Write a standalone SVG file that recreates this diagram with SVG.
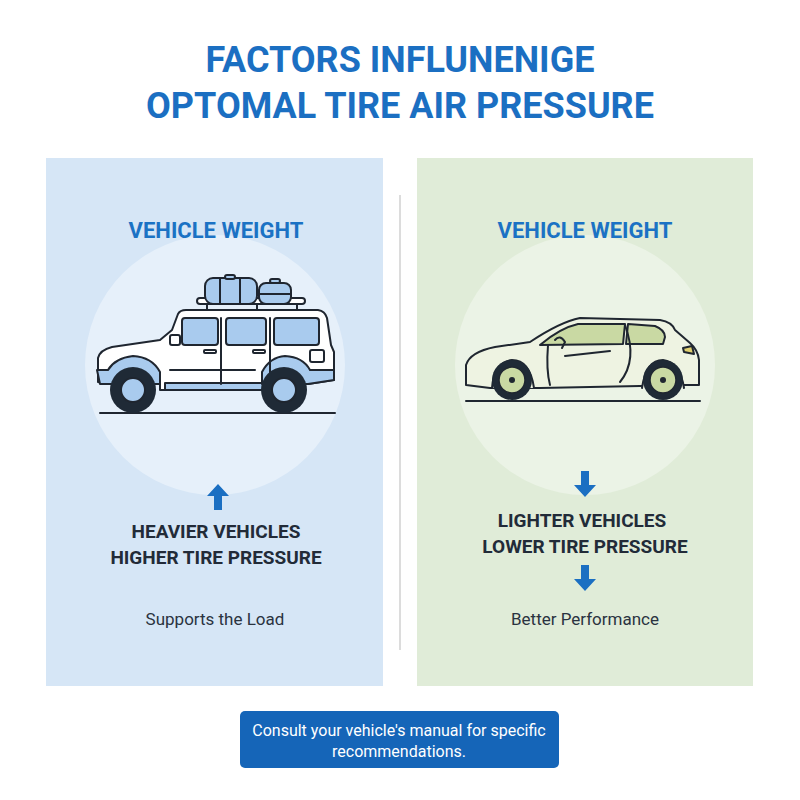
<svg xmlns="http://www.w3.org/2000/svg" width="800" height="800" viewBox="0 0 800 800">
<style>
.t{font-family:Roboto,"Liberation Sans",sans-serif;font-weight:bold;text-anchor:middle}
.title{fill:#1b6fc2;font-size:36px}
.h{fill:#1b72c4;font-size:22px}
.b{fill:#222b38;font-size:19px}
.s{font-family:Roboto,"Liberation Sans",sans-serif;fill:#2a3340;font-size:17px;text-anchor:middle}
.ln{stroke:#1f2630;stroke-width:2;stroke-linejoin:round;stroke-linecap:round}
.tire{fill:#1f2a36}
</style>
<rect width="800" height="800" fill="#fff"/>
<text class="t title" x="400" y="72">FACTORS INFLUNENIGE</text>
<text class="t title" x="400" y="118">OPTOMAL TIRE AIR PRESSURE</text>
<g id="left-panel">
<rect x="46" y="158" width="337" height="528" fill="#d6e6f6"/>
<circle cx="215" cy="365" r="130" fill="#e6f0fa"/>
<text class="t h" x="216" y="238">VEHICLE WEIGHT</text>
</g>
<g id="suv">
<line class="ln" x1="100" y1="413" x2="335" y2="413"/>
<path class="ln" fill="#fff" d="M98,382 L98,358 Q100,350 112,347 L160,340 L172,330 L178,314 Q180,310 186,310 L318,310 Q325,311 327,318 L331,345 L334,352 L334,380 L308,384 L262,384 L262,390 L160,390 L160,384 L110,384 Z"/>
<rect x="165" y="383" width="100" height="7" fill="#a9cbee" class="ln"/>
<path class="ln" fill="#a9cbee" d="M97,370 L108,370 Q115,358 133,356 Q152,357 160,372 L160,384 L100,384 Z"/>
<path class="ln" fill="#a9cbee" d="M262,384 L262,372 Q270,357 285,356 Q303,357 310,370 L334,370 L334,380 L308,384 Z"/>
<rect class="ln" x="197" y="298" width="108" height="6" rx="3" fill="#fff"/>
<line class="ln" x1="207" y1="304" x2="207" y2="310"/><line class="ln" x1="257" y1="304" x2="257" y2="310"/><line class="ln" x1="297" y1="304" x2="297" y2="310"/>
<rect class="ln" x="205" y="278" width="52" height="26" rx="8" fill="#a9cbee"/>
<rect class="ln" x="225" y="275" width="10" height="4" rx="2" fill="#a9cbee"/>
<line class="ln" x1="220" y1="279" x2="220" y2="304"/><line class="ln" x1="240" y1="279" x2="240" y2="304"/>
<rect class="ln" x="259" y="283" width="32" height="21" rx="7" fill="#a9cbee"/>
<rect class="ln" x="270" y="279" width="10" height="4" rx="2" fill="#a9cbee"/>
<line class="ln" x1="259" y1="294" x2="291" y2="294"/>
<rect class="ln" x="182" y="318" width="36" height="27" rx="3" fill="#a9cbee"/>
<rect class="ln" x="226" y="318" width="40" height="27" rx="3" fill="#a9cbee"/>
<rect class="ln" x="274" y="318" width="45" height="27" rx="3" fill="#a9cbee"/>
<rect class="ln" x="170" y="335" width="10" height="10" rx="2" fill="#fff"/>
<line class="ln" x1="221" y1="318" x2="221" y2="384"/><line class="ln" x1="270" y1="318" x2="270" y2="384"/>
<line class="ln" x1="170" y1="370" x2="255" y2="370"/>
<rect class="ln" x="204" y="350" width="12" height="3" rx="1" fill="#fff"/><rect class="ln" x="253" y="350" width="12" height="3" rx="1" fill="#fff"/>
<rect class="ln" x="310" y="350" width="14" height="12" rx="2" fill="#fff"/>
<circle class="tire" cx="133" cy="390" r="23"/><circle cx="133" cy="390" r="12" fill="#a9cbee" stroke="#1f2630" stroke-width="2"/>
<circle class="tire" cx="284" cy="390" r="23"/><circle cx="284" cy="390" r="12" fill="#a9cbee" stroke="#1f2630" stroke-width="2"/>
</g>
<g id="left-text">
<path d="M218,484 L229,496 L222,496 L222,510 L214,510 L214,496 L207,496 Z" fill="#1b6fc2"/>
<text class="t b" x="216" y="538">HEAVIER VEHICLES</text>
<text class="t b" x="216" y="564">HIGHER TIRE PRESSURE</text>
<text class="s" x="215" y="625">Supports the Load</text>
</g>
<line x1="400" y1="195" x2="400" y2="650" stroke="#d0d0d0" stroke-width="1.5"/>
<g id="right-panel">
<rect x="417" y="158" width="336" height="528" fill="#e0ecd8"/>
<circle cx="585" cy="365" r="130" fill="#ebf3e6"/>
<text class="t h" x="585" y="238">VEHICLE WEIGHT</text>
</g>
<g id="coupe">
<line class="ln" x1="466" y1="401" x2="700" y2="401"/>
<path class="ln" fill="#eef3e2" d="M466,385 L466,365 Q470,352 495,347 L530,342 Q560,322 580,318 L660,320 Q672,322 675,330 L690,343 Q698,350 699,360 L699,385 L685,385 L640,386 L540,388 L490,388 Z"/>
<path class="ln" fill="#c9d9a3" d="M540,345 Q560,328 578,324 L625,324 L623,344 Z"/>
<path class="ln" fill="#c9d9a3" d="M628,324 L655,326 Q665,330 665,337 L663,344 L626,344 Z"/>
<path class="ln" fill="#e0d070" d="M683,348 L692,346 L694,354 L684,352 Z"/>
<path class="ln" fill="none" d="M548,345 Q546,370 550,385"/>
<path class="ln" fill="none" d="M625,325 Q638,360 620,382"/>
<line class="ln" x1="565" y1="356" x2="610" y2="351"/>
<path class="ln" fill="none" d="M555,340 Q560,334 565,342 L562,348"/>
<path class="ln" fill="#eef3e2" d="M492,388 Q494,362 512,360 Q530,360 534,388"/>
<path class="ln" fill="#eef3e2" d="M642,388 Q646,360 663,360 Q680,362 684,388"/>
<circle class="tire" cx="512" cy="380" r="20"/><circle cx="512" cy="380" r="13" fill="#c9d9a3" stroke="#1f2630" stroke-width="1.5"/>
<circle cx="512" cy="380" r="3" fill="#1f2630"/>
<circle class="tire" cx="663" cy="380" r="20"/><circle cx="663" cy="380" r="13" fill="#c9d9a3" stroke="#1f2630" stroke-width="1.5"/>
<circle cx="663" cy="380" r="3" fill="#1f2630"/>
</g>
<g id="right-text">
<path d="M585,497 L574,485 L581,485 L581,471 L589,471 L589,485 L596,485 Z" fill="#1b6fc2"/>
<text class="t b" x="582" y="527">LIGHTER VEHICLES</text>
<text class="t b" x="585" y="553">LOWER TIRE PRESSURE</text>
<path d="M585,591 L574,579 L581,579 L581,565 L589,565 L589,579 L596,579 Z" fill="#1b6fc2"/>
<text class="s" x="585" y="625">Better Performance</text>
</g>
<g id="note">
<rect x="240" y="711" width="319" height="57" rx="5" fill="#1565b8"/>
<text class="s" x="399" y="736" style="fill:#fff;font-size:16px">Consult your vehicle's manual for specific</text>
<text class="s" x="399" y="757" style="fill:#fff;font-size:16px">recommendations.</text>
</g>
</svg>
